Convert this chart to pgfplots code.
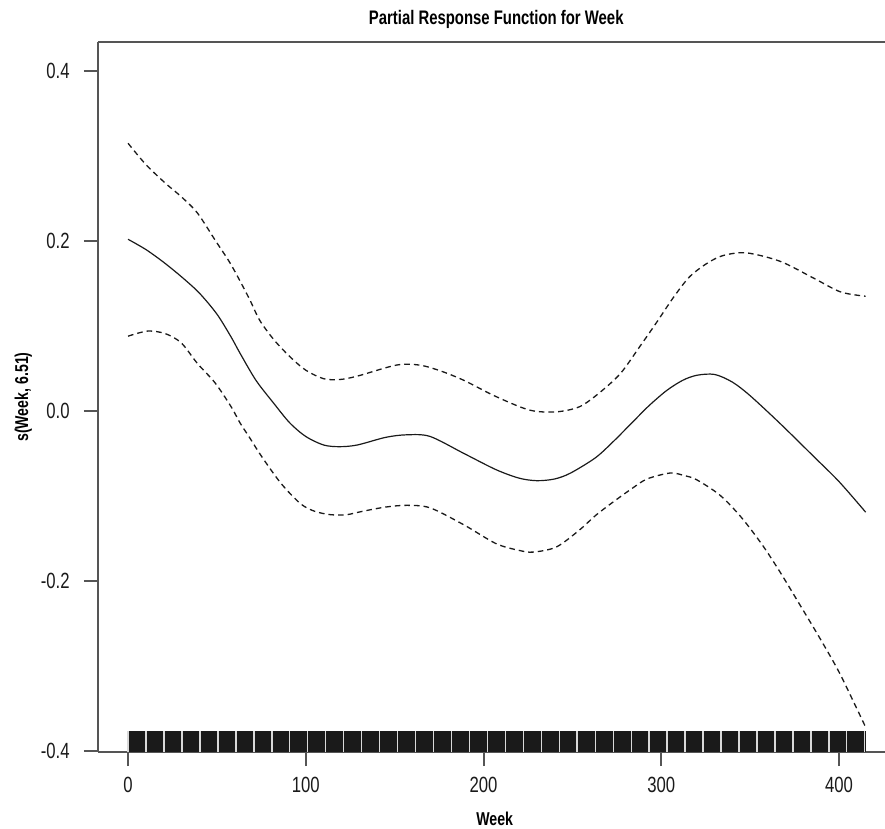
\documentclass[border=0pt]{standalone}
\usepackage{pgfplots}
\pgfplotsset{compat=1.18}
\usepackage{fontspec}
\setmainfont{Liberation Sans}[FakeStretch=0.76]

\definecolor{spine}{HTML}{555555}
\definecolor{ink}{HTML}{1A1A1A}

% fitted smooth and its confidence band
\pgfplotstableread{
x y
0 0.202
10 0.190
20 0.175
30 0.158
40 0.139
50 0.114
58 0.087
63 0.068
72 0.036
82 0.009
91 -0.014
100 -0.030
110 -0.040
119 -0.042
129 -0.040
145 -0.031
157 -0.028
170 -0.030
189 -0.050
207 -0.069
220 -0.079
230 -0.082
240 -0.080
249 -0.073
263 -0.055
273 -0.036
283 -0.015
293 0.006
303 0.024
312 0.036
320 0.042
330 0.043
340 0.034
350 0.018
367 -0.015
386 -0.054
400 -0.083
415 -0.119
}\fitline

\pgfplotstableread{
x y
0 0.315
10 0.290
21 0.268
30 0.252
39 0.233
49 0.201
58 0.172
68 0.133
74 0.107
82 0.084
91 0.064
100 0.048
110 0.038
119 0.037
129 0.041
151 0.054
164 0.054
176 0.047
189 0.036
207 0.017
226 0.001
241 -0.001
254 0.005
265 0.021
277 0.044
288 0.076
297 0.103
307 0.134
316 0.158
326 0.174
335 0.183
348 0.186
367 0.176
386 0.156
401 0.140
415 0.135
}\upperband

\pgfplotstableread{
x y
0 0.088
11 0.094
21 0.091
30 0.080
39 0.056
49 0.033
58 0.005
63 -0.014
68 -0.030
75 -0.053
86 -0.085
97 -0.109
105 -0.118
114 -0.122
123 -0.122
132 -0.118
145 -0.113
157 -0.111
170 -0.114
189 -0.134
207 -0.156
220 -0.164
228 -0.166
241 -0.160
254 -0.140
263 -0.123
273 -0.107
283 -0.092
292 -0.080
305 -0.073
313 -0.076
320 -0.081
333 -0.099
345 -0.125
357 -0.158
367 -0.190
378 -0.228
390 -0.270
400 -0.307
410 -0.350
415 -0.372
}\lowerband

\begin{document}
\begin{tikzpicture}
\begin{axis}[
    scale only axis,
    width=393.5pt, height=355pt,
    xmin=-16.9, xmax=425.9,
    ymin=-0.4012, ymax=0.4341,
    axis x line*=box, axis y line*=left,
    axis line style={spine, line width=1pt, -},
    xtick={0,100,200,300,400},
    ytick={-0.4,-0.2,0,0.2,0.4},
    xtick pos=bottom,
    tick align=outside,
    major tick length=7pt,
    tick style={spine, line width=1pt},
    /pgf/number format/assume math mode=true,
    yticklabel style={/pgf/number format/fixed, /pgf/number format/fixed zerofill, /pgf/number format/precision=1},
    ticklabel style={font=\fontsize{11}{12}\selectfont, text=ink},
    xticklabel style={inner sep=0pt, anchor=north, yshift=-5.5pt},
    yticklabel style={inner sep=0pt, anchor=east, xshift=-7pt},
    title={Partial Response Function for Week},
    every axis title/.style={font=\fontsize{9.8}{11}\selectfont\bfseries, at={(axis description cs:0.506,1.024)}, anchor=base, inner sep=0pt},
    xlabel={Week},
    ylabel={s(Week, 6.51)},
    every axis x label/.style={font=\fontsize{9.3}{10}\selectfont\bfseries, at={(axis description cs:0.504,-0.1042)}, anchor=base, inner sep=0pt},
    every axis y label/.style={font=\fontsize{9.3}{10}\selectfont\bfseries, at={(axis description cs:-0.0889,0.5)}, rotate=90, anchor=base, inner sep=0pt},
    clip=false,
]
\coordinate (ll) at (rel axis cs:0,0);
\coordinate (ur) at (rel axis cs:1,1);

% rug of observed weeks
\addplot[fill=ink, draw=none] coordinates {(0,-0.4012) (415.3,-0.4012) (415.3,-0.3765) (0,-0.3765)} -- cycle;
\addplot[only marks, mark=|, mark size=5.2pt, mark options={draw=gray!30, line width=0.7pt}] coordinates {
(0,-0.3889) (10.1,-0.3889) (20.2,-0.3889) (30.3,-0.3889) (40.4,-0.3889) (50.6,-0.3889)
(60.7,-0.3889) (70.8,-0.3889) (80.9,-0.3889) (91.0,-0.3889) (101.1,-0.3889) (111.2,-0.3889)
(121.3,-0.3889) (131.4,-0.3889) (141.5,-0.3889) (151.7,-0.3889) (161.8,-0.3889) (171.9,-0.3889)
(182.0,-0.3889) (192.1,-0.3889) (202.2,-0.3889) (212.3,-0.3889) (222.4,-0.3889) (232.5,-0.3889)
(242.6,-0.3889) (252.7,-0.3889) (262.9,-0.3889) (273.0,-0.3889) (283.1,-0.3889) (293.2,-0.3889)
(303.3,-0.3889) (313.4,-0.3889) (323.5,-0.3889) (333.6,-0.3889) (343.7,-0.3889) (353.9,-0.3889)
(364.0,-0.3889) (374.1,-0.3889) (384.2,-0.3889) (394.3,-0.3889) (404.4,-0.3889) (414.5,-0.3889)
};

\addplot[ink, line width=0.65pt, smooth, dash pattern=on 2.8pt off 2pt] table {\upperband};
\addplot[ink, line width=0.65pt, smooth, dash pattern=on 2.8pt off 2pt] table {\lowerband};
\addplot[ink, line width=0.6pt, smooth] table {\fitline};
\end{axis}
\pgfresetboundingbox
\path ([xshift=-49pt, yshift=-38pt]ll) rectangle ([yshift=21pt]ur);
\end{tikzpicture}
\end{document}
